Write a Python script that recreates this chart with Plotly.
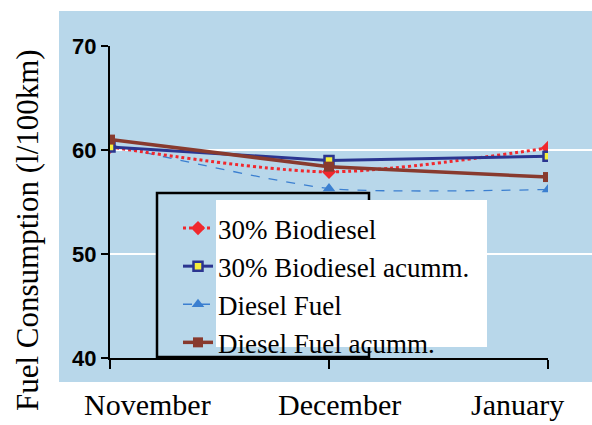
import plotly.graph_objects as go

months = ["November", "December", "January"]
bio30 = [60.3, 57.9, 60.2]
bio30_acc = [60.3, 59.0, 59.4]
diesel = [60.5, 56.3, 56.2]
diesel_acc = [61.0, 58.4, 57.4]
y_ticks = [40, 50, 60, 70]

W, H = 592, 425
L, R, T, B = 110, 44, 46, 67
pw, ph = W - L - R, H - T - B

def px(x):
    return (x - L) / pw

def py(y):
    return (H - B - y) / ph

BLUE_BG = "#b8d7ea"
SERIF = "Liberation Serif"

fig = go.Figure()
xs = [0, 1, 2]
fig.add_trace(go.Scatter(x=xs, y=diesel, name="Diesel Fuel", mode="lines+markers",
                         line=dict(color="#3b7fd0", width=1.3, dash="dash", shape="spline", smoothing=0.6),
                         marker=dict(symbol="triangle-up", size=11, color="#3b7fd0"), legendrank=3))
fig.add_trace(go.Scatter(x=xs, y=bio30, name="30% Biodiesel", mode="lines+markers",
                         line=dict(color="#f0282d", width=3, dash="dot", shape="spline", smoothing=0.8),
                         marker=dict(symbol="diamond", size=11, color="#f0282d"), legendrank=1))
fig.add_trace(go.Scatter(x=xs, y=bio30_acc, name="30% Biodiesel acumm.", mode="lines+markers",
                         line=dict(color="#2b3590", width=3),
                         marker=dict(symbol="square", size=9, color="#f5ee3a",
                                     line=dict(color="#2b3590", width=2.5)), legendrank=2))
fig.add_trace(go.Scatter(x=xs, y=diesel_acc, name="Diesel Fuel acumm.", mode="lines+markers",
                         line=dict(color="#883a2e", width=3.5),
                         marker=dict(symbol="square", size=10, color="#883a2e"), legendrank=4))

shapes = [
    dict(type="rect", xref="paper", yref="paper", x0=px(59), x1=px(592), y0=py(382), y1=py(11),
         fillcolor=BLUE_BG, line=dict(width=0), layer="below"),
    dict(type="line", xref="paper", yref="y", x0=1, x1=px(592), y0=60, y1=60,
         line=dict(color="white", width=2), layer="below"),
    dict(type="line", xref="paper", yref="y", x0=1, x1=px(592), y0=50, y1=50,
         line=dict(color="white", width=2), layer="below"),
    dict(type="rect", xref="paper", yref="paper", x0=px(157), x1=px(369), y0=py(357), y1=py(193),
         fillcolor=BLUE_BG, line=dict(color="black", width=2.5), layer="above"),
    dict(type="rect", xref="paper", yref="paper", x0=px(216), x1=px(487), y0=py(347), y1=py(200),
         fillcolor="white", line=dict(width=0), layer="above"),
]

# month label centres (pixels) — Excel-style offset labels
label_centres_px = [147, 339, 517]
annotations = [dict(text="Fuel Consumption (l/100km)", xref="paper", yref="paper",
                    x=px(27), y=py(230), xanchor="center", yanchor="middle",
                    textangle=-90, showarrow=False,
                    font=dict(family=SERIF, size=31, color="black"))]
for m, cx in zip(months, label_centres_px):
    annotations.append(dict(text=m, xref="paper", yref="paper", x=px(cx), y=py(404),
                            xanchor="center", yanchor="middle", showarrow=False,
                            font=dict(family=SERIF, size=30, color="black")))

fig.update_layout(
    width=W, height=H,
    font=dict(family=SERIF, color="black"),
    margin=dict(l=L, r=R, t=T, b=B, pad=0),
    paper_bgcolor="white", plot_bgcolor="rgba(0,0,0,0)",
    shapes=shapes,
    showlegend=True,
    legend=dict(x=px(178), y=py(204), xanchor="left", yanchor="top",
                bgcolor="rgba(0,0,0,0)", borderwidth=0,
                font=dict(family=SERIF, size=27, color="black"), tracegroupgap=0),
    annotations=annotations,
)
fig.update_xaxes(range=[0, 2], tickvals=xs, showticklabels=False, showgrid=False,
                 showline=True, linecolor="black", linewidth=2,
                 ticks="outside", ticklen=9, tickwidth=2, tickcolor="black",
                 zeroline=False, automargin=False)
fig.update_yaxes(range=[40, 70], tickvals=y_ticks, showgrid=True, gridcolor="white", gridwidth=2,
                 showline=True, linecolor="black", linewidth=2,
                 ticks="outside", ticklen=7, tickwidth=2, tickcolor="black",
                 tickfont=dict(family="Liberation Sans", size=22, color="black", weight="bold"),
                 zeroline=False, automargin=False)

fig.write_html("out.html", config={"displayModeBar": False},
               post_script="document.body.style.margin='0';")
